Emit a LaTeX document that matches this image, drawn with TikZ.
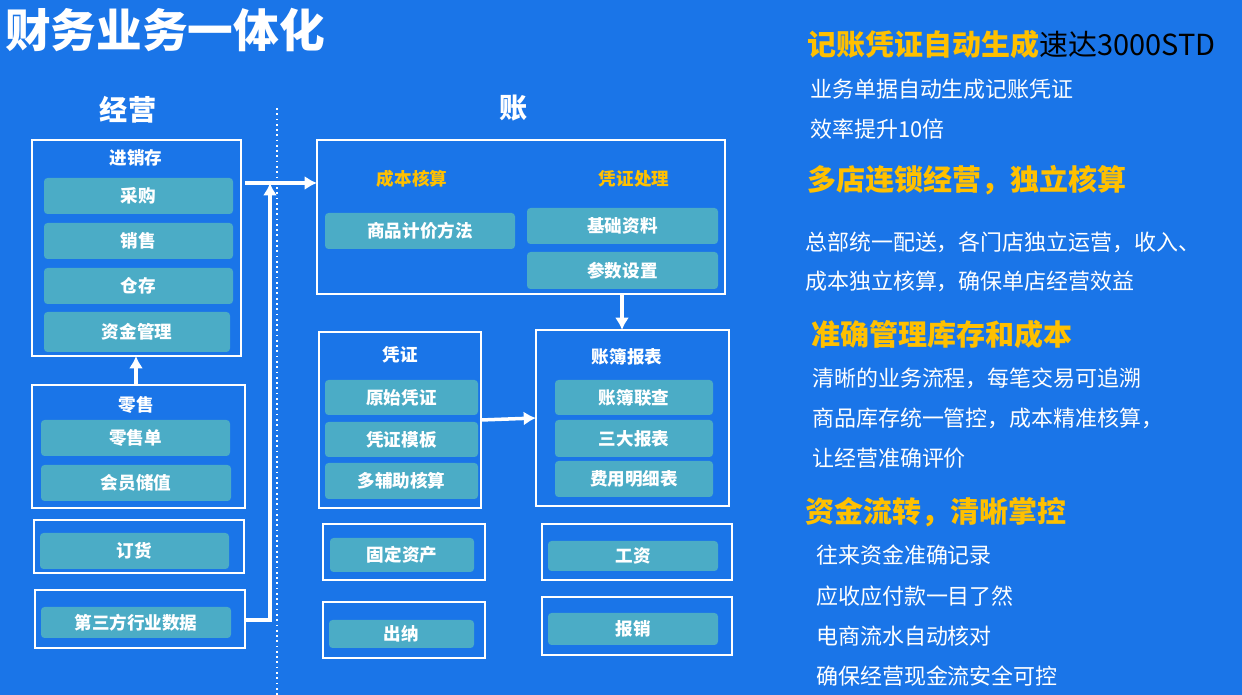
\documentclass[tikz,border=0pt]{standalone}
\usepackage{fontspec}
\setmainfont{Noto Sans CJK SC}
\usetikzlibrary{arrows.meta}
\definecolor{bg}{RGB}{26,117,232}
\definecolor{pill}{RGB}{75,172,198}
\definecolor{gold}{RGB}{255,192,0}
\tikzset{
  frame/.style={draw=white, line width=1.2pt},
  pillbox/.style={fill=pill, rounded corners=2pt},
  pilltext/.style={text=white, font=\fontsize{10}{12}\selectfont\bfseries},
  boxtitle/.style={text=white, font=\fontsize{10}{12}\selectfont\bfseries},
  gtitle/.style={text=gold, font=\fontsize{10}{12}\selectfont\bfseries},
  head/.style={anchor=west, text=gold, font=\fontsize{16.5}{18}\selectfont\bfseries},
  line/.style={anchor=west, text=white, font=\fontsize{12.5}{14}\selectfont},
  flow/.style={draw=white, line width=2pt, -{Latex[length=7pt,width=8pt]}}
}
\begin{document}
\begin{tikzpicture}[x=0.02cm,y=-0.02cm]
\fill[bg] (0,0) rectangle (1242,695);
\useasboundingbox (0,0) rectangle (1242,695);

% title and section labels
\node[anchor=west, text=white, font=\fontsize{26}{30}\selectfont\bfseries] (title) at (-1,30) {财务业务一体化};
\node[text=white, font=\fontsize{16}{18}\selectfont\bfseries] (jy) at (128,110) {经营};
\node[text=white, font=\fontsize{16}{18}\selectfont\bfseries] (zh) at (514,108) {账};
\draw[white, dotted, line width=1pt] (277,108) -- (277,695);

% frames
\draw[frame] (32,140) rectangle (241,356);
\draw[frame] (32,385) rectangle (245,508);
\draw[frame] (34,520) rectangle (244,573);
\draw[frame] (35,590) rectangle (245,648);
\draw[frame] (317,140) rectangle (725,294);
\draw[frame] (319,332) rectangle (481,508);
\draw[frame] (536,330) rectangle (729,506);
\draw[frame] (323,524) rectangle (485,580);
\draw[frame] (542,524) rectangle (732,580);
\draw[frame] (323,602) rectangle (485,658);
\draw[frame] (542,597) rectangle (732,655);

% frame titles
\node[boxtitle] (jxc) at (136,158) {进销存};
\node[boxtitle] (ls) at (136,405) {零售};
\node[gtitle] (cbhs) at (412,179) {成本核算};
\node[gtitle] (pzcl) at (634,179) {凭证处理};
\node[boxtitle] (pz) at (400,355) {凭证};
\node[boxtitle] (zbbb) at (627,357) {账簿报表};

% pills
\foreach \n/\xa/\ya/\xb/\yb/\t in {
  cg/44/178/233/214/采购, xs/44/223/233/259/销售, cc/44/268/233/304/仓存,
  zjgl/44/312/230/352/资金管理, lsd/41/420/230/456/零售单, hycz/41/465/231/501/会员储值,
  dh/40/533/229/569/订货, dsf/41/607/231/638/第三方行业数据,
  spjj/325/213/515/249/商品计价方法, jczl/527/208/718/244/基础资料, cssz/527/252/718/289/参数设置,
  yspz/325/380/478/415/原始凭证, pzmb/325/422/478/457/凭证模板, dfz/325/463/478/499/多辅助核算,
  zblc/555/380/713/415/账簿联查, sdbb/555/420/713/457/三大报表, fymx/555/461/713/497/费用明细表,
  gdzc/330/538/474/572/固定资产, gz/548/541/718/571/工资, cn/329/620/474/648/出纳, bx/548/613/718/645/报销}
{
  \fill[pillbox] (\xa,\ya) rectangle (\xb,\yb);
  \node[pilltext] (\n) at ({(\xa+\xb)/2},{(\ya+\yb)/2}) {\t};
}

% connectors
\coordinate (lsTop) at (136,385);
\coordinate (jxcBot) at (136,356);
\draw[flow] (lsTop) -- (jxcBot);
\coordinate (dsfR) at (245,620);
\coordinate (upEnd) at (270,183);
\draw[flow] (dsfR) -| (upEnd);
\coordinate (jxcR) at (245,183);
\coordinate (zhL) at (317,183);
\draw[flow] (jxcR) -- (zhL);
\coordinate (zhB) at (622,294);
\coordinate (zbT) at (622,330);
\draw[flow] (zhB) -- (zbT);
\coordinate (pzR) at (481,420);
\coordinate (zbL) at (536,418);
\draw[flow] (pzR) -- (zbL);

% right text
\node[head] (h1) at (801,44) {记账凭证自动生成\textcolor{black}{\mdseries 速达3000STD}};
\node[line] (t1) at (804,89) {业务单据自动生成记账凭证};
\node[line] (t2) at (804,129) {效率提升10倍};
\node[head] (h2) at (801,180) {多店连锁经营，独立核算};
\node[line] (t3) at (799,242) {总部统一配送，各门店独立运营，收入、};
\node[line] (t4) at (799,281) {成本独立核算，确保单店经营效益};
\node[head] (h3) at (805,334) {准确管理库存和成本};
\node[line] (t5) at (806,378) {清晰的业务流程，每笔交易可追溯};
\node[line] (t6) at (806,418) {商品库存统一管控，成本精准核算，};
\node[line] (t7) at (806,458) {让经营准确评价};
\node[head] (h4) at (799,512) {资金流转，清晰掌控};
\node[line] (t8) at (810,555) {往来资金准确记录};
\node[line] (t9) at (810,596) {应收应付款一目了然};
\node[line] (t10) at (810,636) {电商流水自动核对};
\node[line] (t11) at (810,676) {确保经营现金流安全可控};
\end{tikzpicture}
\end{document}
